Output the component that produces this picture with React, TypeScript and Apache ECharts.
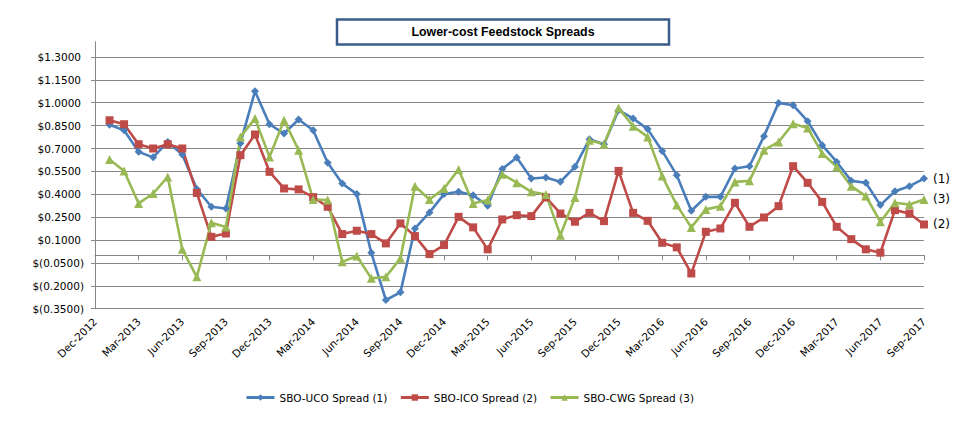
import React, { useEffect, useRef } from "react";
import * as echarts from "echarts";

const categories: string[] = [
  "Dec-2012",
  "Jan-2013", "Feb-2013", "Mar-2013", "Apr-2013", "May-2013", "Jun-2013", "Jul-2013", "Aug-2013", "Sep-2013", "Oct-2013", "Nov-2013", "Dec-2013",
  "Jan-2014", "Feb-2014", "Mar-2014", "Apr-2014", "May-2014", "Jun-2014", "Jul-2014", "Aug-2014", "Sep-2014", "Oct-2014", "Nov-2014", "Dec-2014",
  "Jan-2015", "Feb-2015", "Mar-2015", "Apr-2015", "May-2015", "Jun-2015", "Jul-2015", "Aug-2015", "Sep-2015", "Oct-2015", "Nov-2015", "Dec-2015",
  "Jan-2016", "Feb-2016", "Mar-2016", "Apr-2016", "May-2016", "Jun-2016", "Jul-2016", "Aug-2016", "Sep-2016", "Oct-2016", "Nov-2016", "Dec-2016",
  "Jan-2017", "Feb-2017", "Mar-2017", "Apr-2017", "May-2017", "Jun-2017", "Jul-2017", "Aug-2017", "Sep-2017",
];

const ucoSpread: (number | null)[] = [
  null,
  0.855, 0.82, 0.678, 0.642, 0.743, 0.66, 0.435, 0.318, 0.307, 0.735, 1.075, 0.859,
  0.798, 0.89, 0.82, 0.607, 0.471, 0.401, 0.016, -0.293, -0.243, 0.176, 0.281, 0.401,
  0.416, 0.394, 0.324, 0.565, 0.641, 0.503, 0.51, 0.482, 0.58, 0.761, 0.728, 0.951,
  0.897, 0.827, 0.684, 0.525, 0.292, 0.383, 0.383, 0.569, 0.584, 0.781, 0.999, 0.984,
  0.879, 0.722, 0.612, 0.488, 0.475, 0.329, 0.42, 0.453, 0.503,
];

const icoSpread: (number | null)[] = [
  null,
  0.885, 0.859, 0.728, 0.7, 0.728, 0.7, 0.409, 0.121, 0.143, 0.656, 0.792, 0.547,
  0.438, 0.432, 0.381, 0.318, 0.139, 0.161, 0.139, 0.078, 0.209, 0.126, 0.008, 0.067,
  0.252, 0.183, 0.039, 0.235, 0.263, 0.257, 0.379, 0.274, 0.22, 0.278, 0.224, 0.553,
  0.278, 0.226, 0.082, 0.052, -0.119, 0.154, 0.176, 0.344, 0.187, 0.248, 0.322, 0.584,
  0.475, 0.35, 0.187, 0.106, 0.039, 0.017, 0.296, 0.274, 0.202,
];

const cwgSpread: (number | null)[] = [
  null,
  0.628, 0.553, 0.34, 0.405, 0.514, 0.039, -0.141, 0.213, 0.185, 0.776, 0.896, 0.645,
  0.885, 0.689, 0.366, 0.362, -0.043, -0.005, -0.151, -0.141, -0.02, 0.453, 0.366, 0.438,
  0.563, 0.34, 0.362, 0.532, 0.476, 0.416, 0.399, 0.132, 0.379, 0.754, 0.728, 0.966,
  0.846, 0.776, 0.519, 0.329, 0.183, 0.301, 0.322, 0.481, 0.488, 0.689, 0.743, 0.863,
  0.835, 0.667, 0.58, 0.453, 0.388, 0.22, 0.344, 0.333, 0.366,
];

const seriesNames = ["SBO-UCO Spread (1)", "SBO-ICO Spread (2)", "SBO-CWG Spread (3)"];
const endTags = ["(1)", "(2)", "(3)"];
const titleText = "Lower-cost Feedstock Spreads";

const FONT = "'DejaVu Sans', Tahoma, sans-serif";
const GRID = "#878787";

export default function App() {
  const ref = useRef<HTMLDivElement>(null);

  useEffect(() => {
    if (!ref.current) return;
    const chart = echarts.init(ref.current, undefined, { renderer: "svg" });

    const mk = (
      name: string,
      data: (number | null)[],
      color: string,
      symbol: string,
      size: number,
      tag: string
    ) => ({
      name,
      type: "line",
      data,
      xAxisIndex: 0,
      yAxisIndex: 0,
      symbol,
      symbolSize: size,
      showSymbol: true,
      connectNulls: false,
      lineStyle: { color, width: 2.6 },
      itemStyle: { color, borderWidth: 0 },
      endLabel: {
        show: true,
        formatter: () => tag,
        color: "#000",
        fontFamily: FONT,
        fontSize: 12,
        distance: 9,
      },
      emphasis: { disabled: true },
    });

    chart.setOption({
      animation: false,
      backgroundColor: "#fff",
      grid: { left: 95, right: 46, top: 41.7, bottom: 114.3, containLabel: false },
      graphic: [
        {
          type: "rect",
          shape: { x: 337, y: 19.5, width: 332, height: 25 },
          style: { fill: "#fff", stroke: "#3A5C89", lineWidth: 2.5 },
        },
        {
          type: "text",
          x: 503,
          y: 32,
          style: {
            text: titleText,
            fill: "#000",
            font: "bold 12.4px 'Liberation Sans', Arial, sans-serif",
            textAlign: "center",
            textVerticalAlign: "middle",
          },
        },
      ],
      legend: {
        data: seriesNames,
        left: 240,
        top: 387,
        itemWidth: 28,
        itemHeight: 8,
        itemGap: 12,
        lineStyle: { width: 3 },
        textStyle: { fontFamily: FONT, fontSize: 10.5, color: "#000" },
      },
      xAxis: [
        {
          type: "category",
          data: categories,
          boundaryGap: false,
          axisLine: { show: true, onZero: true, lineStyle: { color: GRID, width: 1 } },
          axisTick: { show: true, interval: 2, length: 5, inside: false, lineStyle: { color: GRID } },
          axisLabel: { show: false },
          splitLine: { show: false },
        },
        {
          type: "category",
          data: categories,
          boundaryGap: false,
          position: "bottom",
          axisLine: { show: false, onZero: false },
          axisTick: { show: false },
          axisLabel: {
            show: true,
            interval: 2,
            rotate: 45,
            margin: 11,
            color: "#000",
            fontFamily: FONT,
            fontSize: 10.5,
          },
          splitLine: { show: false },
        },
      ],
      yAxis: {
        type: "value",
        min: -0.35,
        max: 1.4,
        interval: 0.15,
        axisLine: { show: true, lineStyle: { color: GRID, width: 1 } },
        axisTick: { show: true, length: 4, lineStyle: { color: GRID } },
        splitLine: { show: true, showMaxLine: false, lineStyle: { color: GRID, width: 1 } },
        axisLabel: {
          showMaxLabel: false,
          margin: 11,
          formatter: (v: number) => {
            const r = Math.round(v * 10000) / 10000;
            if (r < 0) return `{n|$(${Math.abs(r).toFixed(4)})}`;
            return `{n|$${r.toFixed(4)}}{s| }`;
          },
          rich: {
            n: { fontFamily: FONT, fontSize: 10.5, color: "#000" },
            s: { fontFamily: FONT, fontSize: 10.5, width: 3 },
          },
        },
      },
      series: [
        mk(seriesNames[0], ucoSpread, "#4A7EBB", "diamond", 8, endTags[0]),
        mk(seriesNames[1], icoSpread, "#BE4B48", "rect", 8, endTags[1]),
        mk(seriesNames[2], cwgSpread, "#98B954", "triangle", 9, endTags[2]),
      ],
    });

    return () => chart.dispose();
  }, []);

  return (
    <div
      ref={ref}
      style={{ position: "fixed", left: 0, top: 0, width: 970, height: 423 }}
    />
  );
}
